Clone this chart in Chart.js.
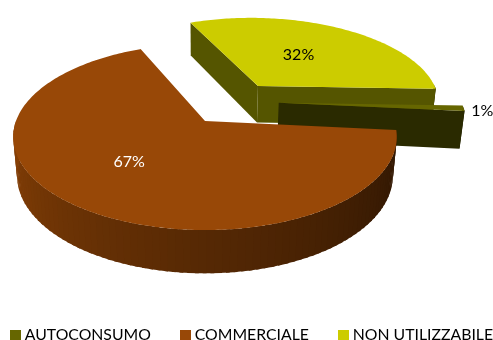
<!DOCTYPE html>
<html>
<head>
    <title>Ripartizione</title>
    <script src="https://cdn.jsdelivr.net/npm/chart.js"></script>
    <style>
        html, body { margin: 0; background: #fff; overflow: hidden; }
        .chart-container { width: 493px; height: 340px; overflow: hidden; }
        /* canvas is wider than the window so the legend stays on one line */
        #pie3d { margin-left: -23px; }
    </style>
</head>
<body>
    <div class="chart-container">
        <canvas id="pie3d" width="553" height="353"></canvas>
    </div>

    <script>
        const categories = ['AUTOCONSUMO', 'COMMERCIALE', 'NON UTILIZZABILE'];
        const shares = [1, 67, 32];
        const topColors = ['#666600', '#984807', '#CCCC00'];
        const sideColors = ['#2A2A00', '#4A2400', '#555500'];
        const labelColors = ['#000000', '#FFFFFF', '#000000'];

        // how far each slice is pulled out, in pie radii (right, towards viewer)
        const pullOut = [[0.404, -0.21], [0, 0], [0.3, -0.414]];
        // where the % text sits: fraction of radius along the middle of the slice + pixel nudge
        const labelRadius = [1.1, 0.5, 0.5];
        const labelNudge = [[0, 2], [-16, 2], [-3, -1]];
        const drawOrder = [2, 0, 1]; // back to front

        // perspective view of the tilted pie
        const view = { x: 228, y: 121, rx: 189, ry: 90.5, depth: 39, tilt: 0.17, shrink: 0.02 };

        function project(u, v, down) {
            const w = 1 - view.tilt * v + view.shrink * down;
            return [view.x + view.rx * u / w, view.y + (view.ry * v + view.depth * down) / w];
        }

        function shaded(hex, f) {
            const n = parseInt(hex.slice(1), 16);
            const c = [n >> 16, (n >> 8) & 255, n & 255].map(p => Math.round(p * f));
            return `rgb(${c[0]},${c[1]},${c[2]})`;
        }

        function fillPoly(ctx, pts, color) {
            ctx.beginPath();
            pts.forEach((p, i) => i ? ctx.lineTo(p[0], p[1]) : ctx.moveTo(p[0], p[1]));
            ctx.closePath();
            ctx.fillStyle = color;
            ctx.fill();
        }

        function drawSlice(ctx, arc, i) {
            const [ox, oy] = pullOut[i];
            const a0 = arc.startAngle, a1 = arc.endAngle;
            const rim = (a, down) => project(ox + Math.cos(a), oy + Math.sin(a), down);
            const apex = down => project(ox, oy, down);
            const step = Math.PI / 90;

            // outer wall, in bands going darker towards the right.
            // each band runs a bit under the next one so no seams show
            for (let a = a0; a < a1; a += step) {
                const b = Math.min(a + step, a1);
                if (Math.sin(b) <= 0) continue;
                const over = Math.min(b + step / 2, a1);
                const deg = (Math.atan2(Math.sin(b), Math.cos(b)) * 180) / Math.PI;
                const f = 0.3 + 0.6 * Math.pow(deg / 180, 1.2);
                fillPoly(ctx, [rim(a, 0), rim(over, 0), rim(over, 1), rim(a, 1)], shaded(topColors[i], f));
            }

            // flat cut walls, only those turned to the viewer
            if (Math.cos(a0) < 0) {
                fillPoly(ctx, [apex(0), rim(a0, 0), rim(a0, 1), apex(1)], sideColors[i]);
            }
            if (Math.cos(a1) > 0) {
                fillPoly(ctx, [apex(0), rim(a1, 0), rim(a1, 1), apex(1)], sideColors[i]);
            }

            // top face
            const top = [apex(0)];
            for (let a = a0; a < a1; a += step / 2) top.push(rim(a, 0));
            top.push(rim(a1, 0));
            fillPoly(ctx, top, topColors[i]);
        }

        function drawLabel(ctx, arc, i) {
            const mid = (arc.startAngle + arc.endAngle) / 2;
            const p = project(pullOut[i][0] + labelRadius[i] * Math.cos(mid),
                              pullOut[i][1] + labelRadius[i] * Math.sin(mid), 0);
            ctx.font = '16px Lato';
            ctx.fillStyle = labelColors[i];
            ctx.textAlign = 'center';
            ctx.textBaseline = 'middle';
            ctx.fillText(shares[i] + '%', p[0] + labelNudge[i][0], p[1] + labelNudge[i][1]);
        }

        const pie3d = {
            id: 'pie3d',
            beforeDatasetDraw(chart) {
                const ctx = chart.ctx;
                const arcs = chart.getDatasetMeta(0).data;
                drawOrder.forEach(i => drawSlice(ctx, arcs[i], i));
                drawOrder.forEach(i => drawLabel(ctx, arcs[i], i));
                return false; // the flat pie is replaced by the one above
            }
        };

        // legend square as a picture: keeps the text closer to it than the default gap
        function legendSquare(color) {
            const c = document.createElement('canvas');
            c.width = 11;
            c.height = 11;
            const g = c.getContext('2d');
            g.fillStyle = color;
            g.fillRect(0, 0, 11, 11);
            return c;
        }

        new Chart(document.getElementById('pie3d'), {
            type: 'pie',
            data: {
                labels: categories,
                datasets: [{ data: shares, backgroundColor: topColors, borderWidth: 0 }]
            },
            plugins: [pie3d],
            options: {
                responsive: false,
                animation: false,
                events: [],
                rotation: 92,
                plugins: {
                    tooltip: { enabled: false },
                    legend: {
                        position: 'bottom',
                        labels: {
                            color: '#1a1a1a',
                            font: { family: 'Lato', size: 15.8 },
                            usePointStyle: true,
                            boxWidth: 3,
                            boxHeight: 11,
                            padding: 33,
                            generateLabels: () => categories.map((text, i) => ({
                                text,
                                index: i,
                                pointStyle: legendSquare(topColors[i]),
                                fillStyle: topColors[i],
                                lineWidth: 0
                            }))
                        }
                    }
                }
            }
        });
    </script>
</body>
</html>
